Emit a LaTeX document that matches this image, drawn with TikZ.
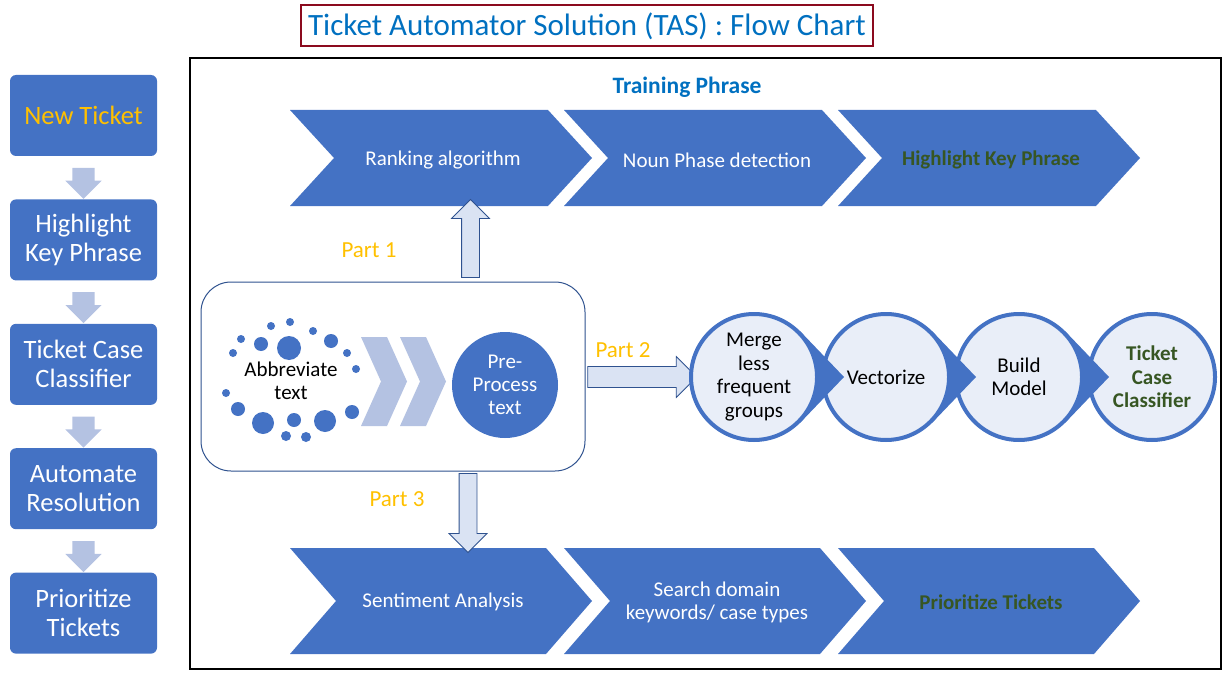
\documentclass[tikz,border=0pt]{standalone}
\usepackage{fontspec}
\setmainfont{Carlito}
\usetikzlibrary{shapes.arrows,positioning,calc}

\definecolor{tasblue}{HTML}{4472C4}
\definecolor{tasdark}{HTML}{2F528F}
\definecolor{taslight}{HTML}{DAE3F3}
\definecolor{tasfade}{HTML}{B4C2E2}
\definecolor{tascircle}{HTML}{E9EEF8}
\definecolor{tastitle}{HTML}{0070C0}
\definecolor{tasred}{HTML}{8B0A1E}
\definecolor{tasgold}{HTML}{FFC000}
\definecolor{tasgreen}{HTML}{375623}

\tikzset{
  stagebox/.style={fill=tasblue, rounded corners=6pt, minimum width=147pt,
    minimum height=81pt, align=center, text=white,
    font=\fontsize{26.5}{29}\selectfont},
  stagearrow/.style={single arrow, fill=tasfade, rotate=-90, inner xsep=0pt,
    inner ysep=11pt, single arrow head extend=7pt, single arrow head indent=0pt,
    minimum height=31pt},
  partarrow/.style={single arrow, draw=tasdark, fill=taslight, line width=0.8pt,
    inner xsep=0pt, inner ysep=8.5pt, single arrow head extend=10pt,
    single arrow head indent=0pt},
  partlabel/.style={text=tasgold, font=\fontsize{23}{26}\selectfont},
  chevtext/.style={text=white, align=center, font=\fontsize{21}{23}\selectfont},
  chevkey/.style={text=tasgreen, align=center, font=\fontsize{21}{23}\selectfont\bfseries},
  stepcircle/.style={circle, draw=tasblue, line width=4pt, fill=tascircle,
    minimum size=126pt, align=center, font=\fontsize{21}{23.5}\selectfont},
}

\begin{document}
\begin{tikzpicture}[x=1pt,y=-1pt]
\useasboundingbox (0,0) rectangle (1230,679);

% title
\node[draw=tasred, line width=2pt, minimum width=572pt, minimum height=41pt,
  text=tastitle, font=\fontsize{31}{33}\selectfont] (title) at (587,26)
  {Ticket Automator Solution (TAS) : Flow Chart};

% left column
\node[stagebox, text=tasgold] (b1) at (83.5,115.5) {New Ticket};
\node[stagebox, below=43pt of b1] (b2) {Highlight\\Key Phrase};
\node[stagebox, below=43pt of b2] (b3) {Ticket Case\\Classifier};
\node[stagebox, below=43pt of b3] (b4) {Automate\\Resolution};
\node[stagebox, below=43pt of b4] (b5) {Prioritize\\Tickets};
\node[stagearrow] (a12) at ($(b1.south)!0.5!(b2.north)$) {};
\node[stagearrow] (a23) at ($(b2.south)!0.5!(b3.north)$) {};
\node[stagearrow] (a34) at ($(b3.south)!0.5!(b4.north)$) {};
\node[stagearrow] (a45) at ($(b4.south)!0.5!(b5.north)$) {};

% frame
\draw[line width=1.5pt] (190,58) rectangle (1221,669);
\node[text=tastitle, font=\fontsize{23.5}{26}\selectfont\bfseries] (train) at (687,87) {Training Phrase};

% top row
\foreach \x/\n/\s/\t in {290/rank/chevtext/{Ranking algorithm},
    564/noun/chevtext/{Noun Phase detection},
    838/hkp/chevkey/{Highlight Key Phrase}}{
  \fill[tasblue] (\x,110) -- ++(258,0) -- ++(44,48) -- ++(-44,48) -- ++(-258,0)
    -- ++(44,-48) -- cycle;
  \node[\s] (\n) at (\x+153,160) {\t};
}

% bottom row
\foreach \x/\n/\s/\t in {290/senti/chevtext/{Sentiment Analysis},
    564/search/chevtext/{Search domain\\keywords/ case types},
    838/prio/chevkey/{Prioritize Tickets}}{
  \fill[tasblue] (\x,548) -- ++(256,0) -- ++(46,53) -- ++(-46,53) -- ++(-256,0)
    -- ++(46,-53) -- cycle;
  \node[\s] (\n) at (\x+153,602) {\t};
}

% source box
\node[draw=tasdark, fill=white, line width=1pt, rounded corners=30pt,
  minimum width=384pt, minimum height=189pt] (src) at (393,376.5) {};
\foreach \x/\y/\r in {290/322/4, 271/326/4, 313/331/4, 241/339/4, 261/344/7,
    289/348/12, 331/341/7, 233/353/4, 347/353/4, 356/369/4, 226/393/4,
    238/409/7, 352/412/7, 263/423/11, 294/420/7, 325/421/11, 286/436/5, 306/437/5}
  \fill[tasblue] (\x,\y) circle[radius=\r pt];
\node[align=center, font=\fontsize{21}{23}\selectfont] (abbr) at (291,381) {Abbreviate\\text};
\foreach \x in {361,400}
  \fill[tasfade] (\x,337) -- ++(26,0) -- ++(20,44.5) -- ++(-20,44.5) -- ++(-26,0)
    -- ++(20,-44.5) -- cycle;
\node[circle, fill=tasblue, minimum size=106pt, text=white, align=center,
  font=\fontsize{21}{23}\selectfont] (pre) at (505,385) {Pre-\\Process\\text};

% parts
\node[partarrow, rotate=90, minimum height=78pt, minimum width=37pt] (up) at (470.5,243) {};
\node[partlabel] (p1) at (369,250) {Part 1};
\node[partarrow, minimum height=109pt, minimum width=41pt, inner ysep=10pt] (right) at (637,377) {};
\node[partlabel] (p2) at (623,350) {Part 2};
\node[partarrow, rotate=-90, minimum height=79pt, minimum width=37pt] (down) at (468,508.5) {};
\node[partlabel] (p3) at (397,499) {Part 3};

% classifier steps, right to left
\node[stepcircle, font=\fontsize{21}{23.5}\selectfont\bfseries, text=tasgreen] (m4) at (1152,377) {Ticket\\Case\\Classifier};
\fill[tasblue] ($(1019,377)+(45:65)$) -- (1109,377) -- ($(1019,377)+(-45:65)$) -- cycle;
\node[stepcircle] (m3) at (1019,377) {Build\\Model};
\fill[tasblue] ($(886,377)+(45:65)$) -- (976,377) -- ($(886,377)+(-45:65)$) -- cycle;
\node[stepcircle] (m2) at (886,377) {Vectorize};
\fill[tasblue] ($(754,377)+(45:65)$) -- (844,377) -- ($(754,377)+(-45:65)$) -- cycle;
\node[stepcircle] (m1) at (754,377) {Merge\\less\\frequent\\groups};

\end{tikzpicture}
\end{document}
